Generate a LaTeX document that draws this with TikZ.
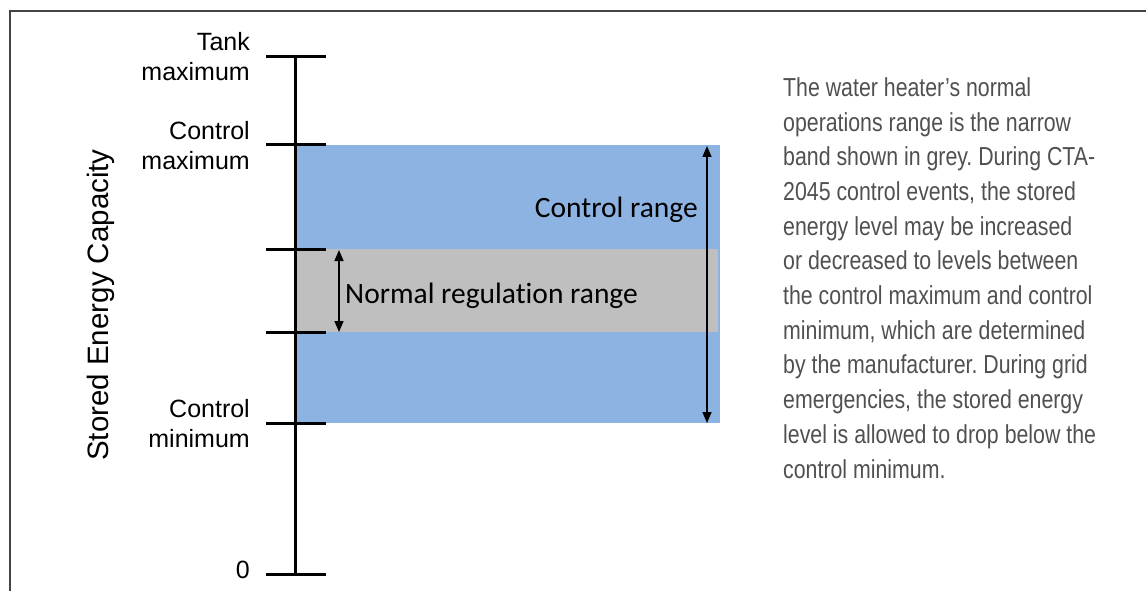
\documentclass[tikz,border=0pt]{standalone}
\usepackage{fontspec}
\setmainfont{Liberation Sans}
\newfontfamily\calib[Ligatures=CommonOff]{Carlito}
\newfontfamily\parafont[FakeStretch=0.82]{Liberation Sans}
\usetikzlibrary{arrows.meta}
\definecolor{ctrlblue}{HTML}{8DB3E2}
\definecolor{normgrey}{HTML}{BFBFBF}
\definecolor{paratext}{HTML}{505050}
\definecolor{framegrey}{HTML}{444444}
\frenchspacing
\begin{document}
\begin{tikzpicture}[x=1pt,y=-1pt,
  tickline/.style={line width=3pt},
  axisline/.style={line width=3pt},
  lvl/.style={anchor=base east, align=right, inner sep=0pt, font=\fontsize{25}{30}\selectfont},
  rangelbl/.style={inner sep=0pt, font=\calib\fontsize{29.5}{34}\selectfont},
  rangearrow/.style={line width=1.5pt, {Triangle[length=11pt,width=9pt]}-{Triangle[length=11pt,width=9pt]}},
  frameline/.style={framegrey, line width=1.6pt}]
\useasboundingbox (0,0) rectangle (1146,591);

% frame
\coordinate (fr1) at (1146,11);
\coordinate (fr2) at (10,11);
\coordinate (fr3) at (10,591);
\draw[frameline] (fr1) -- (fr2) -- (fr3);

% bands
\fill[ctrlblue] (296,145) rectangle (720,423);
\fill[normgrey] (296,249) rectangle (718,332);

% axis and ticks
\coordinate (top) at (295,57);
\coordinate (bot) at (295,574);
\draw[axisline] (top) -- (bot);
\foreach \n/\y in {t1/57,t2/145,t3/249,t4/332,t5/423,t6/574}{
  \coordinate (\n l) at (266,\y);
  \coordinate (\n r) at (326,\y);
  \draw[tickline] (\n l) -- (\n r);
}

% level labels (anchor at baseline of last line)
\node[lvl] (tankmax) at (250,81) {Tank\\maximum};
\node[lvl] (ctrlmax) at (250,170) {Control\\maximum};
\node[lvl] (ctrlmin) at (250,447) {Control\\minimum};
\node[lvl] (zero) at (250,578) {0};

% axis title
\node[rotate=90, anchor=base, inner sep=0pt, font=\fontsize{29.5}{34}\selectfont] (title) at (108,305) {Stored Energy Capacity};

% ranges
\coordinate (ca) at (707,146);
\coordinate (cb) at (707,423);
\draw[rangearrow] (ca) -- (cb);
\coordinate (na) at (339,250);
\coordinate (nb) at (339,332);
\draw[rangearrow] (na) -- (nb);
\node[rangelbl, anchor=base east] (ctrlrange) at (698,217) {Control range};
\node[rangelbl, anchor=base west] (normrange) at (345,303) {Normal regulation range};

% paragraph (anchor at baseline of last line)
\node[anchor=base west, align=left, inner sep=0pt, text=paratext,
      font=\parafont\fontsize{26}{34.7}\selectfont] (para) at (783,478)
{The water heater’s normal\\
operations range is the narrow\\
band shown in grey. During CTA-\\
2045 control events, the stored\\
energy level may be increased\\
or decreased to levels between\\
the control maximum and control\\
minimum, which are determined\\
by the manufacturer. During grid\\
emergencies, the stored energy\\
level is allowed to drop below the\\
control minimum.};
\end{tikzpicture}
\end{document}
